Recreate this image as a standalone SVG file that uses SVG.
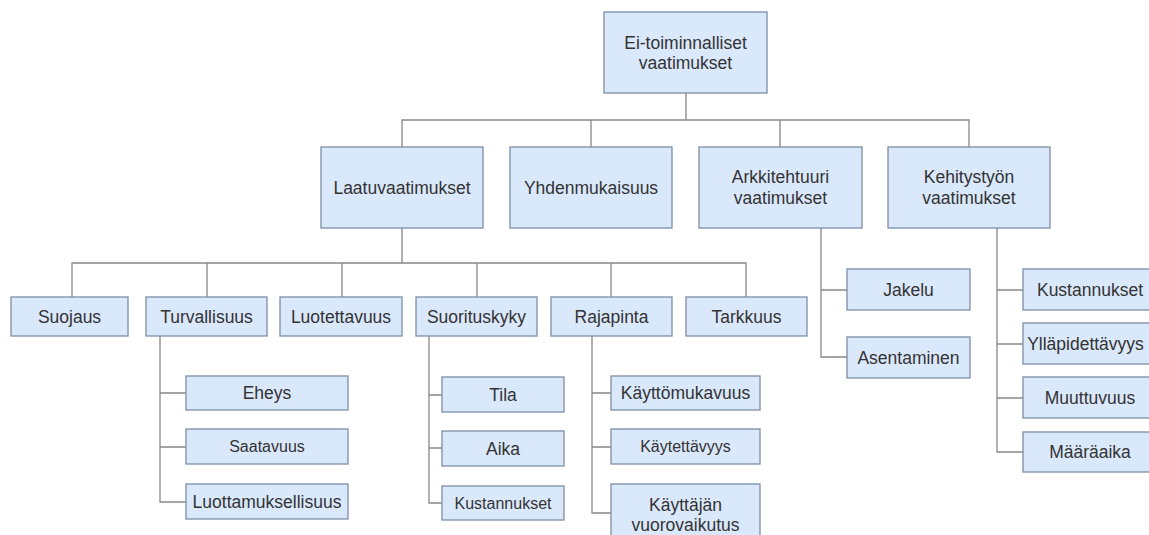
<svg xmlns="http://www.w3.org/2000/svg" width="1149" height="535" viewBox="0 0 1149 535">
<style>
.b{fill:#dae8fc;stroke:#7d8ea6;stroke-width:1.3}
.t{font-family:"Liberation Sans",Arial,sans-serif;font-size:17.5px;fill:#333;text-anchor:middle;dominant-baseline:central}
.s{font-size:16px}
.c{fill:none;stroke:#888;stroke-width:1.3}
</style>
<rect width="1149" height="535" fill="#fff"/>
<g id="connectors">
<path class="c" d="M686,93V120M402,147V120H969V147M591,120V147M780,120V147"/>
<path class="c" d="M402,228V263M72,297V263H746V297M207,263V297M342,263V297M477,263V297M611,263V297"/>
<path class="c" d="M821,228V357H847M821,290H847"/>
<path class="c" d="M997,228V452H1023M997,290H1023M997,344H1023M997,398H1023"/>
<path class="c" d="M160,336V502H186M160,393H186M160,447H186"/>
<path class="c" d="M429,336V503H442M429,395H442M429,448H442"/>
<path class="c" d="M592,336V513H611M592,393H611M592,447H611"/>
</g>
<g id="n-root"><rect class="b" x="604" y="12" width="163" height="81"/><text class="t" x="685.5" y="43">Ei-toiminnalliset</text><text class="t" x="685.5" y="63">vaatimukset</text></g>
<g id="n-laatu"><rect class="b" x="321" y="147" width="162" height="81"/><text class="t" x="402" y="188">Laatuvaatimukset</text></g>
<g id="n-yhden"><rect class="b" x="510" y="147" width="162" height="81"/><text class="t" x="591" y="188">Yhdenmukaisuus</text></g>
<g id="n-arkki"><rect class="b" x="699" y="147" width="163" height="81"/><text class="t" x="780.5" y="177">Arkkitehtuuri</text><text class="t" x="780.5" y="198">vaatimukset</text></g>
<g id="n-kehitys"><rect class="b" x="888" y="147" width="162" height="81"/><text class="t" x="969" y="177">Kehitystyön</text><text class="t" x="969" y="198">vaatimukset</text></g>
<g id="n-suojaus"><rect class="b" x="11" y="297" width="117" height="39"/><text class="t" x="69.5" y="316.5">Suojaus</text></g>
<g id="n-turval"><rect class="b" x="146" y="297" width="121" height="39"/><text class="t" x="206.5" y="316.5">Turvallisuus</text></g>
<g id="n-luotet"><rect class="b" x="280" y="297" width="122" height="39"/><text class="t" x="341" y="316.5">Luotettavuus</text></g>
<g id="n-suorit"><rect class="b" x="416" y="297" width="121" height="39"/><text class="t" x="476.5" y="316.5">Suorituskyky</text></g>
<g id="n-rajap"><rect class="b" x="551" y="297" width="121" height="39"/><text class="t" x="611.5" y="316.5">Rajapinta</text></g>
<g id="n-tarkk"><rect class="b" x="686" y="297" width="121" height="39"/><text class="t" x="746.5" y="316.5">Tarkkuus</text></g>
<g id="n-eheys"><rect class="b" x="186" y="376" width="162" height="34"/><text class="t" x="267" y="393">Eheys</text></g>
<g id="n-saata"><rect class="b" x="186" y="429" width="162" height="35"/><text class="t s" x="267" y="446.5">Saatavuus</text></g>
<g id="n-luotta"><rect class="b" x="186" y="484" width="162" height="35"/><text class="t" x="267" y="501.5">Luottamuksellisuus</text></g>
<g id="n-tila"><rect class="b" x="442" y="377" width="122" height="35"/><text class="t" x="503" y="394.5">Tila</text></g>
<g id="n-aika"><rect class="b" x="442" y="431" width="122" height="35"/><text class="t" x="503" y="448.5">Aika</text></g>
<g id="n-kust1"><rect class="b" x="442" y="486" width="122" height="34"/><text class="t s" x="503" y="503">Kustannukset</text></g>
<g id="n-kaytmuk"><rect class="b" x="611" y="376" width="149" height="34"/><text class="t" x="685.5" y="393">Käyttömukavuus</text></g>
<g id="n-kaytet"><rect class="b" x="611" y="429" width="149" height="35"/><text class="t s" x="685.5" y="446.5">Käytettävyys</text></g>
<g id="n-kayttaj"><rect class="b" x="611" y="484" width="149" height="60"/><text class="t" x="685.5" y="505">Käyttäjän</text><text class="t" x="685.5" y="525">vuorovaikutus</text></g>
<g id="n-jakelu"><rect class="b" x="847" y="269" width="123" height="41"/><text class="t" x="908.5" y="289.5">Jakelu</text></g>
<g id="n-asent"><rect class="b" x="847" y="337" width="123" height="41"/><text class="t" x="908.5" y="357.5">Asentaminen</text></g>
<g id="n-kust2"><rect class="b" x="1023" y="269" width="134" height="41"/><text class="t" x="1090" y="289.5">Kustannukset</text></g>
<g id="n-yllap"><rect class="b" x="1023" y="323" width="134" height="41"/><text class="t" x="1085.5" y="343.5">Ylläpidettävyys</text></g>
<g id="n-muutt"><rect class="b" x="1023" y="377" width="134" height="41"/><text class="t" x="1090" y="397.5">Muuttuvuus</text></g>
<g id="n-maara"><rect class="b" x="1023" y="432" width="134" height="40"/><text class="t" x="1090" y="452">Määräaika</text></g>
</svg>
